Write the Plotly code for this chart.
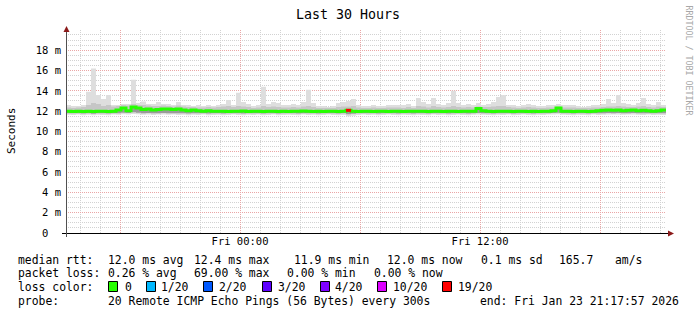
import plotly.graph_objects as go
import pandas as pd

# ---------------- data ----------------
start = pd.Timestamp("2026-01-22 15:17:57")
end = pd.Timestamp("2026-01-23 21:17:57")

# smoke top (max of pings), ms
smoke_hi = [
    12.6, 12.5, 12.5, 12.6, 13.9, 16.2, 13.6, 13.2, 13.6, 12.6,
    12.6, 12.7, 12.7, 15.1, 12.8, 12.95, 12.7, 12.7, 12.9, 12.7,
    12.7, 12.6, 12.9, 12.6, 12.6, 12.5, 12.6, 12.5, 12.6, 12.5,
    12.6, 12.7, 13.1, 12.6, 13.8, 12.9, 12.7, 12.5, 12.6, 14.4,
    12.7, 12.9, 12.8, 12.6, 12.6, 12.7, 12.6, 12.9, 14.1, 12.8,
    12.5, 12.5, 12.4, 12.5, 12.8, 12.9, 13.0, 13.2, 12.6, 12.5,
    12.5, 12.6, 12.5, 12.5, 12.6, 12.6, 12.6, 12.6, 12.7, 12.5,
    13.3, 12.9, 12.7, 13.3, 12.7, 12.6, 12.8, 14.0, 12.8, 12.6,
    12.7, 12.6, 12.8, 12.6, 12.7, 12.9, 13.4, 13.6, 12.6, 12.6,
    12.5, 12.6, 12.7, 12.6, 12.5, 12.5, 12.6, 12.6, 12.7, 12.6,
    12.6, 12.6, 12.5, 12.4, 12.5, 12.6, 12.6, 12.7, 13.2, 12.8,
    13.6, 12.8, 12.7, 12.6, 12.8, 13.3, 12.7, 12.6, 12.9, 12.6,
    12.6]

# smoke inner band top, ms
smoke_mid_hi = [
    12.35, 12.3, 12.35, 12.4, 12.6, 12.8, 12.7, 12.5, 12.6, 12.45,
    12.5, 12.6, 12.55, 12.7, 12.6, 12.6, 12.55, 12.5, 12.5, 12.55,
    12.5, 12.45, 12.55, 12.45, 12.4, 12.4, 12.35, 12.35, 12.4, 12.35,
    12.4, 12.45, 12.5, 12.4, 12.5, 12.45, 12.4, 12.3, 12.35, 12.5,
    12.4, 12.45, 12.4, 12.35, 12.35, 12.4, 12.35, 12.45, 12.5, 12.4,
    12.3, 12.3, 12.3, 12.3, 12.4, 12.45, 12.45, 12.5, 12.35, 12.3,
    12.3, 12.35, 12.3, 12.3, 12.35, 12.35, 12.35, 12.3, 12.4, 12.3,
    12.5, 12.45, 12.35, 12.5, 12.4, 12.35, 12.4, 12.5, 12.4, 12.35,
    12.4, 12.35, 12.45, 12.4, 12.4, 12.45, 12.5, 12.5, 12.4, 12.35,
    12.3, 12.35, 12.4, 12.35, 12.3, 12.3, 12.35, 12.35, 12.45, 12.35,
    12.35, 12.35, 12.3, 12.3, 12.3, 12.35, 12.35, 12.4, 12.45, 12.45,
    12.5, 12.45, 12.4, 12.4, 12.45, 12.5, 12.4, 12.35, 12.45, 12.4,
    12.4]

# smoke inner band bottom, ms
smoke_mid_lo = [
    11.8, 11.78, 11.8, 11.76, 11.78, 11.75, 11.8, 11.78, 11.76, 11.8,
    11.8, 11.85, 11.82, 11.88, 11.85, 11.8, 11.82, 11.78, 11.8, 11.82,
    11.8, 11.8, 11.78, 11.8, 11.76, 11.8, 11.78, 11.8, 11.76, 11.78,
    11.8, 11.76, 11.78, 11.8, 11.78, 11.76, 11.8, 11.78, 11.8, 11.76,
    11.78, 11.8, 11.76, 11.78, 11.8, 11.78, 11.76, 11.8, 11.78, 11.8,
    11.76, 11.78, 11.8, 11.78, 11.76, 11.78, 11.7, 11.75, 11.78, 11.8,
    11.78, 11.8, 11.76, 11.78, 11.8, 11.78, 11.76, 11.8, 11.78, 11.76,
    11.8, 11.78, 11.76, 11.8, 11.78, 11.8, 11.76, 11.78, 11.8, 11.78,
    11.76, 11.8, 11.82, 11.8, 11.78, 11.76, 11.8, 11.78, 11.8, 11.76,
    11.78, 11.8, 11.78, 11.76, 11.8, 11.78, 11.8, 11.82, 11.85, 11.8,
    11.78, 11.76, 11.8, 11.78, 11.76, 11.8, 11.78, 11.8, 11.82, 11.8,
    11.82, 11.8, 11.8, 11.82, 11.8, 11.78, 11.8, 11.78, 11.8, 11.78,
    11.8]

# smoke bottom (min of pings), ms
smoke_lo = [
    11.65, 11.62, 11.66, 11.6, 11.64, 11.6, 11.65, 11.62, 11.6, 11.66,
    11.65, 11.7, 11.68, 11.72, 11.7, 11.65, 11.68, 11.62, 11.66, 11.68,
    11.65, 11.66, 11.62, 11.65, 11.6, 11.64, 11.62, 11.66, 11.6, 11.62,
    11.65, 11.6, 11.62, 11.66, 11.62, 11.6, 11.65, 11.62, 11.66, 11.6,
    11.62, 11.66, 11.6, 11.62, 11.65, 11.62, 11.6, 11.66, 11.62, 11.65,
    11.6, 11.62, 11.66, 11.62, 11.6, 11.62, 11.5, 11.55, 11.62, 11.66,
    11.62, 11.65, 11.6, 11.62, 11.66, 11.62, 11.6, 11.65, 11.62, 11.6,
    11.65, 11.62, 11.6, 11.66, 11.62, 11.65, 11.6, 11.62, 11.66, 11.62,
    11.6, 11.65, 11.68, 11.65, 11.62, 11.6, 11.65, 11.62, 11.66, 11.6,
    11.62, 11.66, 11.62, 11.6, 11.65, 11.62, 11.66, 11.68, 11.7, 11.65,
    11.62, 11.6, 11.65, 11.62, 11.6, 11.66, 11.62, 11.65, 11.68, 11.66,
    11.68, 11.65, 11.66, 11.68, 11.65, 11.62, 11.66, 11.62, 11.65, 11.62,
    11.65]

# median rtt, ms
median_rtt = [
    11.98, 11.97, 12.0, 11.97, 11.98, 11.97, 12.0, 11.98, 11.97, 12.0,
    12.1, 12.3, 12.05, 12.4, 12.3, 12.15, 12.2, 12.1, 12.15, 12.2,
    12.2, 12.15, 12.2, 12.1, 12.05, 12.1, 12.05, 12.0, 12.05, 12.0,
    11.98, 12.0, 11.97, 12.0, 11.98, 12.02, 11.97, 11.98, 12.0, 11.97,
    11.98, 12.0, 11.97, 11.98, 11.97, 12.0, 11.98, 12.02, 12.0, 11.97,
    11.98, 11.97, 12.0, 11.98, 11.97, 12.0, 12.08, 11.98, 11.97, 12.0,
    11.98, 11.97, 11.98, 12.0, 11.97, 11.98, 12.0, 11.97, 11.98, 12.0,
    11.98, 12.0, 11.97, 11.98, 12.0, 11.97, 11.98, 12.0, 11.97, 11.98,
    11.98, 12.0, 12.25, 12.05, 11.98, 11.97, 12.0, 11.98, 12.0, 11.97,
    11.98, 12.0, 11.97, 11.98, 11.97, 12.0, 11.98, 12.05, 12.3, 12.0,
    11.98, 11.97, 12.0, 11.98, 11.97, 12.0, 12.05, 12.08, 12.1, 12.08,
    12.1, 12.05, 12.08, 12.1, 12.05, 12.08, 12.05, 12.0, 12.05, 12.1,
    12.05]

# loss events: sample index -> lost pings (of 20)
loss_index = [56]
loss_count = [19]

loss_labels = ["0", "1/20", "2/20", "3/20", "4/20", "10/20", "19/20"]
loss_thresholds = [0, 1, 2, 3, 4, 10, 19]
loss_colors = ["#26ff00", "#00b8ff", "#0059ff", "#5e00ff", "#7e00ff", "#dd00ff", "#ff0000"]

y_tickvals = [0, 2, 4, 6, 8, 10, 12, 14, 16, 18]
y_ticktext = ["0\u00a0\u00a0", "2 m", "4 m", "6 m", "8 m", "10 m", "12 m", "14 m", "16 m", "18 m"]
x_tickvals = ["2026-01-22 18:00", "2026-01-23 00:00", "2026-01-23 06:00",
              "2026-01-23 12:00", "2026-01-23 18:00"]
x_ticktext = ["", "Fri 00:00", "", "Fri 12:00", ""]

rtt_stats = ["12.0 ms avg", "12.4 ms max", "11.9 ms min", "12.0 ms now", "0.1 ms sd", "165.7", "am/s"]
loss_stats = ["0.26 % avg", "69.00 % max", "0.00 % min", "0.00 % now"]
probe_text = "20 Remote ICMP Echo Pings (56 Bytes) every 300s"
end_text = "end: Fri Jan 23 21:17:57 2026"

# ---------------- figure ----------------
MONO = "DejaVu Sans Mono"
times = pd.date_range(start, end, periods=len(median_rtt))

L, R, T, B = 66, 666, 30, 233
W, H = R - L, B - T

def px(x):
    return (x - L) / W

def py(y):
    return (B - y) / H

fig = go.Figure()

def band(lo, hi, color):
    fig.add_trace(go.Scatter(x=times, y=lo, mode="lines", line=dict(width=0, shape="hv"),
                             hoverinfo="skip", showlegend=False))
    fig.add_trace(go.Scatter(x=times, y=hi, mode="lines", line=dict(width=0, shape="hv"),
                             fill="tonexty", fillcolor=color, hoverinfo="skip", showlegend=False))

band(smoke_lo, smoke_hi, "#dedede")
band(median_rtt, smoke_mid_hi, "#c6c6c6")
band(smoke_mid_lo, median_rtt, "#9a9a9a")

fig.add_trace(go.Scatter(x=times, y=median_rtt, mode="lines",
                         line=dict(width=3, shape="hv", color=loss_colors[0]),
                         showlegend=False))

for idx, cnt in zip(loss_index, loss_count):
    col = loss_colors[0]
    for th, c in zip(loss_thresholds, loss_colors):
        if cnt >= th:
            col = c
    fig.add_trace(go.Scatter(x=[times[idx], times[idx + 1]], y=[median_rtt[idx], median_rtt[idx]],
                             mode="lines", line=dict(width=3, color=col), showlegend=False))

grid_major = "#eaa6a6"
grid_minor = "#d2d2d2"
dash = "1px,1px"

fig.update_xaxes(
    type="date", range=[start, end],
    tickmode="array", tickvals=x_tickvals, ticktext=x_ticktext,
    showgrid=True, gridcolor=grid_major, griddash=dash, gridwidth=1,
    ticks="", showline=False, zeroline=False,
    tickfont=dict(family=MONO, size=10.5, color="black"),
    minor=dict(dtick=3600000, tick0="2026-01-22 00:00", showgrid=True,
               gridcolor=grid_minor, griddash=dash, gridwidth=1, ticks=""),
)
fig.update_yaxes(
    range=[0, 19.99], tickmode="array", tickvals=y_tickvals, ticktext=y_ticktext,
    showgrid=True, gridcolor=grid_major, griddash=dash, gridwidth=1,
    ticks="", showline=False, zeroline=False, ticklabelstandoff=4,
    tickfont=dict(family=MONO, size=10.5, color="black"),
    minor=dict(dtick=0.5, tick0=0, showgrid=True, gridcolor=grid_minor,
               griddash=dash, gridwidth=1, ticks=""),
)

shapes = []
# axes lines + arrows
shapes.append(dict(type="line", xref="paper", yref="paper", x0=px(62), x1=px(670),
                   y0=py(233.5), y1=py(233.5), line=dict(color="black", width=1)))
shapes.append(dict(type="line", xref="paper", yref="paper", x0=px(66.5), x1=px(66.5),
                   y0=py(237), y1=py(30), line=dict(color="#505050", width=1)))
shapes.append(dict(type="path", xref="paper", yref="paper",
                   path=f"M {px(668)} {py(230.5)} L {px(674)} {py(233.5)} L {px(668)} {py(236.5)} Z",
                   fillcolor="#8b1a1a", line=dict(width=0)))
shapes.append(dict(type="path", xref="paper", yref="paper",
                   path=f"M {px(63.5)} {py(32)} L {px(66.5)} {py(26)} L {px(69.5)} {py(32)} Z",
                   fillcolor="#8b1a1a", line=dict(width=0)))

annotations = []

def ann(text, x, y, size=11.4, xanchor="left", color="black", angle=0):
    annotations.append(dict(text=text, x=px(x), y=py(y), xref="paper", yref="paper",
                            xanchor=xanchor, yanchor="middle", showarrow=False,
                            borderpad=0, textangle=angle,
                            font=dict(family=MONO, size=size, color=color)))

ann("Last 30 Hours", 347.5, 14, size=13.3, xanchor="center")
ann("Seconds", 11, 131, size=11, xanchor="center", angle=-90)
ann("RRDTOOL / TOBI OETIKER", 688.5, 60, size=8.3, xanchor="center", color="#a8a8a8", angle=90)

rows_y = [259.5, 273, 286.5, 300.5]
ann("median rtt:", 17, rows_y[0])
for t, x in zip(rtt_stats, [107, 193, 293, 386, 480, 558, 614]):
    ann(t, x, rows_y[0])
ann("packet loss:", 17, rows_y[1])
for t, x in zip(loss_stats, [107, 193, 286, 373]):
    ann(t, x, rows_y[1])
ann("loss color:", 17, rows_y[2])
for lab, col, sx, tx in zip(loss_labels, loss_colors,
                            [108, 146, 203, 262, 320, 377, 442],
                            [124, 160, 218, 277, 334, 392, 457]):
    shapes.append(dict(type="rect", xref="paper", yref="paper",
                       x0=px(sx + 0.5), x1=px(sx + 9.5), y0=py(rows_y[2] - 5), y1=py(rows_y[2] + 5),
                       fillcolor=col, line=dict(color="black", width=1)))
    ann(lab, tx, rows_y[2])
ann("probe:", 17, rows_y[3])
ann(probe_text, 107, rows_y[3])
ann(end_text, 479, rows_y[3])

fig.update_layout(
    width=697, height=315,
    margin=dict(l=L, r=697 - R, t=T, b=315 - B, pad=0),
    paper_bgcolor="white", plot_bgcolor="white",
    shapes=shapes, annotations=annotations,
    font=dict(family=MONO, color="black"),
    showlegend=False,
)

fig.write_html("out.html", config={"displayModeBar": False})
